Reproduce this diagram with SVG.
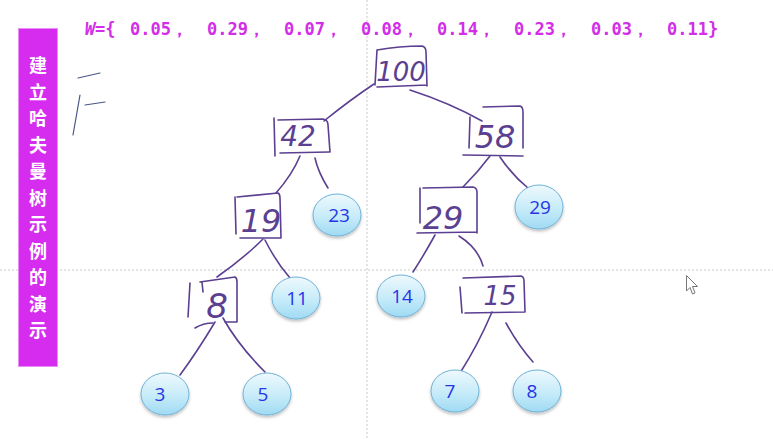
<svg xmlns="http://www.w3.org/2000/svg" width="773" height="439" viewBox="0 0 773 439">
<defs>
<linearGradient id="leafGrad" x1="0" y1="0" x2="0" y2="1">
<stop offset="0" stop-color="#eef9fd"/>
<stop offset="0.55" stop-color="#c6ebf9"/>
<stop offset="1" stop-color="#9fdaf3"/>
</linearGradient>
<filter id="sh" x="-20%" y="-20%" width="140%" height="150%">
<feDropShadow dx="0" dy="2" stdDeviation="1.5" flood-color="#000" flood-opacity="0.25"/>
</filter>
</defs>
<style>
.guide{stroke:#c9c9c9;stroke-width:1;stroke-dasharray:2 2;fill:none}
.ink{stroke:#5b3f91;stroke-width:1.6;fill:none;stroke-linecap:round;stroke-linejoin:round}
.leaf{fill:url(#leafGrad);stroke:#6fb2d6;stroke-width:1;filter:url(#sh)}
.leafTxt{font-family:"Open Sans","Liberation Sans",sans-serif;font-size:19px;fill:#2635e8;text-anchor:middle}
.hand{font-family:"DejaVu Sans","Liberation Sans",sans-serif;font-weight:200;fill:#5b3f91;text-anchor:middle;font-style:italic}
.title{font-family:"DejaVu Sans Mono","Liberation Mono",monospace;font-weight:bold;font-size:17px;fill:#d22ee8}
.side{font-family:"Noto Sans CJK SC","Noto Sans",sans-serif;font-weight:bold;font-size:18px;fill:#ffffff;text-anchor:middle}
</style>
<rect x="0" y="0" width="773" height="439" fill="#ffffff"/>
<line class="guide" x1="367" y1="0" x2="367" y2="439"/>
<line class="guide" x1="0" y1="270" x2="773" y2="270"/>

<g id="title">
<text class="title" y="35"><tspan x="85" font-style="italic">W</tspan><tspan x="95">={</tspan><tspan x="130">0.05，</tspan><tspan x="207">0.29，</tspan><tspan x="284">0.07，</tspan><tspan x="361">0.08，</tspan><tspan x="437">0.14，</tspan><tspan x="514">0.23，</tspan><tspan x="591">0.03，</tspan><tspan x="667">0.11}</tspan></text>
</g>

<g id="sidebar">
<rect x="18.5" y="28.5" width="39" height="338" fill="#d62cf0" stroke="#e98cf5" stroke-width="1"/>
<text class="side" x="38" y="72">建</text>
<text class="side" x="38" y="98.5">立</text>
<text class="side" x="38" y="125">哈</text>
<text class="side" x="38" y="151.5">夫</text>
<text class="side" x="38" y="178">曼</text>
<text class="side" x="38" y="204.5">树</text>
<text class="side" x="38" y="231">示</text>
<text class="side" x="38" y="257.5">例</text>
<text class="side" x="38" y="284">的</text>
<text class="side" x="38" y="310.5">演</text>
<text class="side" x="38" y="337">示</text>
</g>

<g id="scribble" stroke="#4b5685" stroke-width="1.2" fill="none" stroke-linecap="round">
<path d="M78,78 L100,73"/>
<path d="M80,95 L73,135"/>
<path d="M85,105 L105,102"/>
</g>

<g id="connectors">
<path class="ink" d="M374,84 Q350,100 324,121"/>
<path class="ink" d="M410,90 Q450,103 482,121"/>
<path class="ink" d="M300,156 Q292,175 276,193"/>
<path class="ink" d="M315,158 Q318,172 328,188"/>
<path class="ink" d="M490,156 Q478,172 463,187"/>
<path class="ink" d="M500,157 Q512,175 528,188"/>
<path class="ink" d="M263,239 Q244,258 217,277"/>
<path class="ink" d="M265,240 Q276,262 290,278"/>
<path class="ink" d="M435,235 Q424,255 413,272"/>
<path class="ink" d="M459,236 Q478,248 483,266"/>
<path class="ink" d="M215,322 Q197,352 180,375"/>
<path class="ink" d="M223,318 Q238,345 265,372"/>
<path class="ink" d="M492,312 Q478,345 460,373"/>
<path class="ink" d="M506,323 Q518,345 533,362"/>
</g>

<g id="n100">
<path class="ink" d="M377,50 L375,85 M377,50 Q400,46 422,46 Q426,47 426,52 L427,86 M377,87 L427,85"/>
<text class="hand" x="401" y="81" font-size="26">100</text>
</g>
<g id="n42">
<path class="ink" d="M274,118 L275,156 M278,120 L323,119 Q328,120 328,125 L330,152 M280,153 L329,152"/>
<text class="hand" x="298" y="146" font-size="28">42</text>
</g>
<g id="n58">
<path class="ink" d="M470,117 L469,148 M483,107 L520,106 Q523,107 523,112 L523,148 M463,155 L523,156"/>
<text class="hand" x="495" y="148" font-size="32">58</text>
</g>
<g id="n19">
<path class="ink" d="M235,197 L236,234 M237,197 L278,193 Q280,194 280,198 L281,238 M240,238 L281,238"/>
<text class="hand" x="261" y="232" font-size="32">19</text>
</g>
<g id="n29">
<path class="ink" d="M420,188 L420,223 M423,188 L473,187 Q477,188 477,192 L477,233 M417,233 L477,232"/>
<text class="hand" x="443" y="229" font-size="32">29</text>
</g>
<g id="n8">
<path class="ink" d="M190,283 L188,317 M202,282 L203,292 M200,282 L235,277 Q237,278 237,282 L237,322 M195,328 Q203,323 213,323 M225,322 L237,322"/>
<text class="hand" x="217" y="318" font-size="34">8</text>
</g>
<g id="n15">
<path class="ink" d="M460,287 L462,313 M463,278 L521,276 Q524,277 524,281 L525,312 M465,313 L525,312"/>
<text class="hand" x="500" y="305" font-size="26">15</text>
</g>

<g id="leaf23"><ellipse class="leaf" cx="337" cy="215" rx="24" ry="21"/><text class="leafTxt" x="339" y="222">23</text></g>
<g id="leaf29"><ellipse class="leaf" cx="539" cy="207" rx="24" ry="22"/><text class="leafTxt" x="540" y="214">29</text></g>
<g id="leaf11"><ellipse class="leaf" cx="296" cy="298" rx="24" ry="21"/><text class="leafTxt" x="297" y="305">11</text></g>
<g id="leaf14"><ellipse class="leaf" cx="401" cy="296" rx="24" ry="21"/><text class="leafTxt" x="402" y="303">14</text></g>
<g id="leaf3"><ellipse class="leaf" cx="165" cy="394" rx="24" ry="21"/><text class="leafTxt" x="160" y="401">3</text></g>
<g id="leaf5"><ellipse class="leaf" cx="267" cy="394" rx="24" ry="21"/><text class="leafTxt" x="263" y="401">5</text></g>
<g id="leaf7"><ellipse class="leaf" cx="455" cy="391" rx="24" ry="21"/><text class="leafTxt" x="450" y="398">7</text></g>
<g id="leaf8"><ellipse class="leaf" cx="537" cy="391" rx="24" ry="21"/><text class="leafTxt" x="532" y="398">8</text></g>

<g id="cursor">
<path d="M686.5,275.5 L686.5,291 L690,287.5 L692.5,294 L695,293 L692.5,286.5 L697.5,286.5 Z" fill="#ffffff" stroke="#777777" stroke-width="1"/>
</g>
</svg>
